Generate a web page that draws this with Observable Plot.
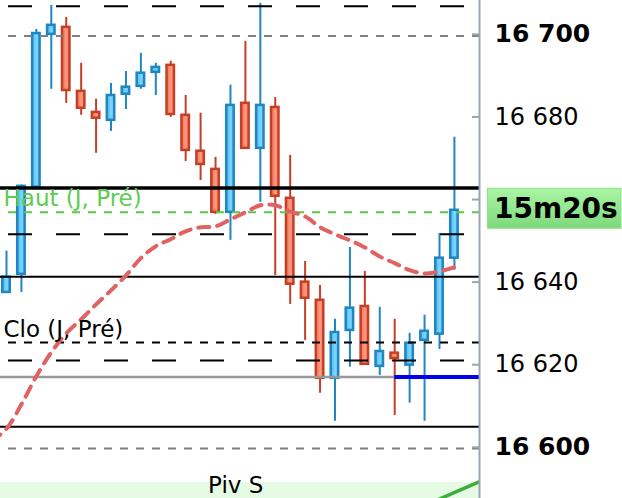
<!DOCTYPE html>
<html>
<head>
<meta charset="utf-8">
<script src="https://cdn.jsdelivr.net/npm/d3@7"></script>
<script src="https://cdn.jsdelivr.net/npm/@observablehq/plot@0.6"></script>
<style>
  html, body { margin: 0; padding: 0; background: #fff; }
  #chart svg { display: block; }
</style>
</head>
<body>
<div id="chart"></div>
<script>
// ---- Data ----
const opens  = [16637.5, 16641.9, 16663.0, 16700.0, 16701.7, 16686.2, 16681.1, 16679.2, 16685.5, 16687.4, 16690.8, 16692.5, 16680.4, 16671.7, 16667.3, 16656.9, 16683.3, 16672.4, 16682.3, 16660.3, 16640.0, 16635.6, 16616.7, 16628.3, 16634.1, 16619.6, 16622.8, 16619.9, 16625.9, 16627.4, 16645.8];
const closes = [16641.2, 16663.2, 16700.2, 16702.2, 16686.4, 16682.1, 16679.7, 16685.2, 16687.2, 16690.6, 16692.0, 16680.6, 16671.9, 16668.5, 16656.9, 16682.8, 16672.4, 16682.8, 16660.8, 16639.5, 16636.1, 16616.7, 16627.8, 16633.7, 16620.1, 16623.2, 16621.5, 16625.2, 16628.1, 16645.8, 16657.4];
const highs  = [16647.5, 16663.5, 16701.2, 16707.0, 16704.1, 16693.0, 16684.3, 16688.1, 16691.0, 16695.4, 16693.0, 16693.5, 16685.2, 16680.9, 16670.2, 16687.7, 16698.3, 16707.5, 16684.7, 16670.7, 16645.0, 16639.2, 16631.0, 16648.4, 16642.6, 16633.9, 16631.0, 16627.6, 16632.0, 16651.8, 16675.1];
const lows   = [16637.3, 16637.5, 16662.9, 16686.7, 16683.3, 16680.4, 16671.2, 16676.5, 16681.8, 16686.7, 16685.2, 16679.9, 16669.2, 16664.6, 16656.4, 16650.1, 16672.2, 16659.3, 16641.6, 16634.6, 16625.9, 16613.1, 16606.3, 16619.4, 16620.1, 16617.4, 16607.7, 16610.7, 16606.3, 16623.7, 16642.9];
// moving average, starting one bar before the first candle (index -1)
const maStart = -1;
const maValues = [16601.5, 16604.5, 16610.4, 16617.2, 16623.0, 16627.6, 16631.0, 16634.6, 16638.0, 16641.6, 16645.8, 16648.7, 16650.4, 16652.3, 16653.3, 16653.5, 16655.2, 16656.9, 16658.6, 16658.6, 16657.1, 16655.9, 16653.3, 16651.6, 16650.1, 16648.4, 16646.2, 16644.6, 16642.9, 16642.1, 16642.6, 16643.6];

// horizontal levels
const levelTopLongDash = 16706.8;
const levelGrayDashHigh = 16699.6;
const levelHautThick = 16662.8;
const levelGreenDash = 16656.9;
const levelLongDash1 = 16651.6;
const levelClo = 16641.3;
const levelShortDash = 16625.4;
const levelLongDash2 = 16621.0;
const levelGraySolid = 16617.0;
const levelBlue = 16617.0;
const blueStartIndex = 26;
const levelLow = 16605.0;
const levelGrayDashLow = 16599.7;
// Piv S band and trend line
const pivBandTop = 16591.5;
const trendIdx = [28, 32];
const trendVal = [16585.9, 16592.2];

const labelHaut = "Haut (J, Pré)";
const labelHautY = 16660.1;
const labelClo = "Clo (J, Pré)";
const labelCloY = 16628.6;
const labelPiv = "Piv S";
const labelPivIdx = 15.35;
const labelPivY = 16590.6;
const countdown = "15m20s";

const yTicks = [16600, 16620, 16640, 16660, 16680, 16700];
const yBoldTicks = [16600, 16700];
const yHiddenLabel = 16660; // covered by the countdown box
const fmt = v => d3.format(",")(v).replace(",", " ");

const yDomain = [16587.6, 16708.2];
const xDomain = [-0.402, 31.68];

const candles = opens.map((o, i) => ({i, open: o, close: closes[i], high: highs[i], low: lows[i], up: closes[i] >= o}));
const ma = maValues.map((v, k) => ({i: maStart + k, v}));
const trend = trendIdx.map((t, k) => ({i: t, v: trendVal[k]}));

const BLUE_S = "#1f86c2", RED_S = "#c43f26";
const font = "DejaVu Sans";

const plot = Plot.plot({
  width: 622, height: 498,
  marginLeft: 0, marginRight: 143, marginTop: 0, marginBottom: 0,
  x: {domain: xDomain, axis: null},
  y: {domain: yDomain, axis: null},
  style: {fontFamily: font, background: "#fff"},
  marks: [
    // Piv S band
    Plot.rect([0], {x1: xDomain[0], x2: xDomain[1], y1: yDomain[0], y2: pivBandTop, fill: "#e6fbe4"}),
    Plot.line(trend, {x: "i", y: "v", stroke: "#3aae3a", strokeWidth: 3.5, clip: true}),
    // wicks
    Plot.ruleX(candles, {x: "i", y1: "low", y2: "high", stroke: d => d.up ? BLUE_S : RED_S, strokeWidth: 2}),
    // bodies
    Plot.rect(candles, {x1: d => d.i - 0.25, x2: d => d.i + 0.25, y1: "open", y2: "close",
      fill: d => d.up ? "url(#gBlue)" : "url(#gRed)", stroke: d => d.up ? BLUE_S : RED_S, strokeWidth: 2.5}),
    // levels
    Plot.ruleY([levelTopLongDash], {stroke: "#000", strokeWidth: 2, strokeDasharray: "24,24", strokeDashoffset: 40}),
    Plot.ruleY([levelGrayDashHigh], {stroke: "#808080", strokeWidth: 2, strokeDasharray: "8,8", strokeDashoffset: 8}),
    Plot.ruleY([levelHautThick], {stroke: "#000", strokeWidth: 3.5}),
    Plot.ruleY([levelGreenDash], {stroke: "#55cc44", strokeWidth: 2, strokeDasharray: "8,8", strokeDashoffset: 8}),
    Plot.ruleY([levelLongDash1], {stroke: "#000", strokeWidth: 2, strokeDasharray: "24,24", strokeDashoffset: 40}),
    Plot.ruleY([levelClo], {stroke: "#000", strokeWidth: 2}),
    Plot.ruleY([levelShortDash], {stroke: "#000", strokeWidth: 2, strokeDasharray: "8,8", strokeDashoffset: 8}),
    Plot.ruleY([levelLongDash2], {stroke: "#000", strokeWidth: 2, strokeDasharray: "24,24", strokeDashoffset: 40}),
    Plot.ruleY([levelGraySolid], {stroke: "#999", strokeWidth: 2.5}),
    Plot.ruleY([levelBlue], {x1: blueStartIndex, x2: xDomain[1], stroke: "#0000ee", strokeWidth: 4}),
    Plot.ruleY([levelLow], {stroke: "#000", strokeWidth: 2}),
    Plot.ruleY([levelGrayDashLow], {stroke: "#808080", strokeWidth: 2, strokeDasharray: "8,8", strokeDashoffset: 8}),
    // moving average
    Plot.line(ma, {x: "i", y: "v", stroke: "#e06262", strokeWidth: 4, strokeDasharray: "11,8", curve: "catmull-rom", clip: true}),
    // labels
    Plot.text([labelHaut], {frameAnchor: "left", y: labelHautY, dx: 3, text: d => d, textAnchor: "start", fill: "#5ccc52", fontSize: 23}),
    Plot.text([labelClo], {frameAnchor: "left", y: labelCloY, dx: 3, text: d => d, textAnchor: "start", fill: "#000", fontSize: 23}),
    Plot.text([labelPiv], {x: labelPivIdx, y: labelPivY, text: d => d, textAnchor: "middle", fill: "#000", fontSize: 23}),
    // right axis
    Plot.frame({anchor: "right", stroke: "#9aa5ad", strokeWidth: 2}),
    Plot.ruleY(yTicks, {insetLeft: 472, stroke: "#9aa5ad", strokeWidth: 2}),
    Plot.text(yTicks.filter(t => !yBoldTicks.includes(t) && t !== yHiddenLabel), {y: d => d, frameAnchor: "right", dx: 15, textAnchor: "start", text: fmt, fontSize: 24, fill: "#000"}),
    Plot.text(yBoldTicks, {y: d => d, frameAnchor: "right", dx: 15, textAnchor: "start", text: fmt, fontSize: 25, fontWeight: "bold", fill: "#000"})
  ]
});

document.getElementById("chart").appendChild(plot);

// gradients
const svg = d3.select(plot);
const defs = svg.insert("defs", ":first-child");
const gb = defs.append("linearGradient").attr("id", "gBlue").attr("x1", "0").attr("x2", "1").attr("y1", "0").attr("y2", "0");
gb.append("stop").attr("offset", "0").attr("stop-color", "#4cb6ec");
gb.append("stop").attr("offset", "0.6").attr("stop-color", "#7fd6ff");
gb.append("stop").attr("offset", "1").attr("stop-color", "#5cc2f4");
const gr = defs.append("linearGradient").attr("id", "gRed").attr("x1", "0").attr("x2", "1").attr("y1", "0").attr("y2", "0");
gr.append("stop").attr("offset", "0").attr("stop-color", "#ef7054");
gr.append("stop").attr("offset", "0.6").attr("stop-color", "#ff9a80");
gr.append("stop").attr("offset", "1").attr("stop-color", "#f67e62");
const gg = defs.append("linearGradient").attr("id", "gGreen").attr("x1", "0").attr("x2", "0").attr("y1", "0").attr("y2", "1");
gg.append("stop").attr("offset", "0").attr("stop-color", "#aaf5a4");
gg.append("stop").attr("offset", "1").attr("stop-color", "#7ed87c");

// countdown box at the last close
const ys = plot.scale("y");
const cy = ys.apply(closes[closes.length - 1]) - 1.5;
const box = svg.append("g");
box.append("rect").attr("x", 487.5).attr("y", cy - 20).attr("width", 133.5).attr("height", 40)
  .attr("fill", "url(#gGreen)").attr("stroke", "#8fe08a").attr("stroke-width", 1);
box.append("text").attr("x", 494).attr("y", cy).attr("dy", "0.36em")
  .attr("text-anchor", "start")
  .attr("font-family", font).attr("font-weight", "bold").attr("font-size", 28).attr("fill", "#000")
  .text(countdown);
</script>
</body>
</html>
